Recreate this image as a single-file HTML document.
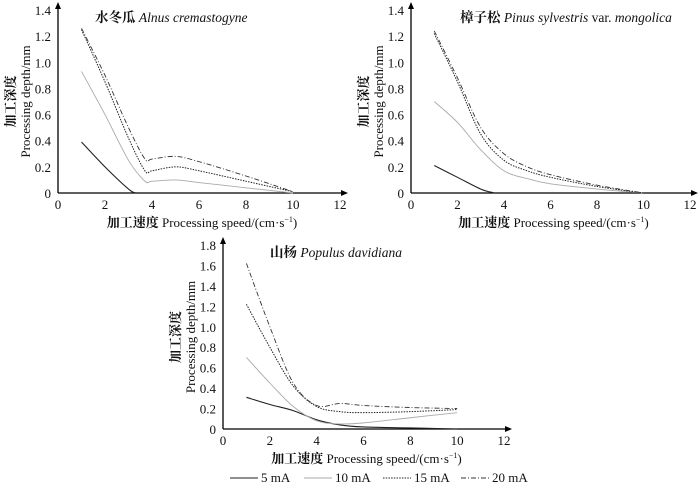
<!DOCTYPE html>
<html><head><meta charset="utf-8"><style>
body{margin:0;background:#fff}
svg text, svg tspan{font-family:"Liberation Serif","Noto Serif CJK SC",serif;fill:#111}
</style></head><body>
<svg id="s" width="700" height="486" viewBox="0 0 700 486"></svg>
<script>
const series = ["5 mA","10 mA","15 mA","20 mA"];
const alnusX5=[1,2,3,3.3], alnusY5=[0.39,0.2,0.03,0];
const alnusX=[1,2,3,3.7,4,5,6,8,10];
const alnusY10=[0.93,0.6,0.25,0.09,0.09,0.1,0.08,0.04,0];
const alnusY15=[1.25,0.85,0.42,0.17,0.17,0.2,0.17,0.09,0.01];
const alnusY20=[1.26,0.9,0.5,0.26,0.26,0.28,0.24,0.13,0.01];
const pinusX5=[1,2,3,3.6], pinusY5=[0.21,0.12,0.03,0];
const pinusX=[1,2,3,4,5,6,8,10];
const pinusY10=[0.7,0.54,0.33,0.17,0.11,0.07,0.03,0];
const pinusY15=[1.22,0.85,0.45,0.25,0.17,0.12,0.05,0];
const pinusY20=[1.24,0.88,0.5,0.3,0.2,0.14,0.06,0];
const popX=[1,2,3,4,5,6,8,10];
const popY5=[0.31,0.24,0.18,0.09,0.04,0.02,0.01,0];
const popY10=[0.7,0.45,0.22,0.08,0.05,0.06,0.11,0.16];
const popY15=[1.22,0.8,0.42,0.22,0.17,0.16,0.17,0.19];
const popY20=[1.62,1.0,0.45,0.23,0.25,0.23,0.21,0.2];
const xTicks=[0,2,4,6,8,10,12];
const yTicks14=[0,0.2,0.4,0.6,0.8,1.0,1.2,1.4];
const yTicks18=[0,0.2,0.4,0.6,0.8,1.0,1.2,1.4,1.6,1.8];

const NS="http://www.w3.org/2000/svg", S=document.getElementById('s');
const FF='"Liberation Serif","Noto Serif CJK SC",serif';
function el(t,a,p){const e=document.createElementNS(NS,t);for(const k in a)e.setAttribute(k,a[k]);(p||S).appendChild(e);return e;}
const styles=[{stroke:'#222','stroke-width':1.1},{stroke:'#aaa','stroke-width':0.9},{stroke:'#222','stroke-width':1,'stroke-dasharray':'1.5,1.2'},{stroke:'#333','stroke-width':0.9,'stroke-dasharray':'5,2,1,2'}];
function smooth(pts){let d='M'+pts[0][0]+','+pts[0][1];for(let i=0;i<pts.length-1;i++){const p0=pts[i-1]||pts[i],p1=pts[i],p2=pts[i+1],p3=pts[i+2]||p2;
d+=' C'+(p1[0]+(p2[0]-p0[0])/6)+','+(p1[1]+(p2[1]-p0[1])/6)+' '+(p2[0]-(p3[0]-p1[0])/6)+','+(p2[1]-(p3[1]-p1[1])/6)+' '+p2[0]+','+p2[1];}return d;}
function chart(name,o){
 const g=el('g',{});  
 const xs=v=>o.x0+(o.x1-o.x0)*v/12, ymax=o.yt[o.yt.length-1], ys=v=>o.y0-(o.y0-o.y1)*v/ymax;
 el('line',{x1:o.x0,y1:o.y0,x2:o.x1+3,y2:o.y0,stroke:'#000','stroke-width':1.3},g);
 el('line',{x1:o.x0,y1:o.y0,x2:o.x0,y2:o.y1-3,stroke:'#000','stroke-width':1.3},g);
 el('path',{d:`M${o.x1+8},${o.y0} l-7,-3 v6z`,fill:'#000'},g);
 el('path',{d:`M${o.x0},${o.y1-8} l-3,7 h6z`,fill:'#000'},g);
 xTicks.forEach(t=>{const e=el('text',{x:xs(t),y:o.y0+16,'text-anchor':'middle','font-size':13,'font-family':FF},g);e.textContent=t;});
 o.yt.forEach(t=>{const e=el('text',{x:o.x0-7,y:ys(t)+5,'text-anchor':'end','font-size':13,'font-family':FF},g);e.textContent=t===0?'0':t.toFixed(1);});
 const xl=el('text',{x:(o.x0+o.x1)/2+3,y:o.y0+34,'text-anchor':'middle','font-size':13,'font-family':FF},g);
 xl.innerHTML='<tspan font-weight="bold">加工速度</tspan> Processing speed/(cm·s<tspan dy="-5" font-size="8">−1</tspan><tspan dy="5">)</tspan>';
 
 const cy=(o.y0+o.y1)/2;
 const yl=el('text',{transform:`translate(${o.x0-43},${cy}) rotate(-90)`,'text-anchor':'middle','font-size':13,'font-weight':'bold','font-family':FF},g);
 yl.textContent='加工深度';
 
 const yl2=el('text',{transform:`translate(${o.x0-28},${cy}) rotate(-90)`,'text-anchor':'middle','font-size':13,'font-family':FF},g);
 yl2.textContent='Processing depth/mm';
 
 const tt=el('text',{x:o.tx,y:o.y1+12,'font-size':13.5,'font-family':FF},g);tt.innerHTML=o.title;
 
 o.data.forEach((d,i)=>{const pts=d[0].map((x,j)=>[xs(x),ys(d[1][j])]);
  const p=el('path',Object.assign({d:smooth(pts),fill:'none'},styles[i]),g);
  });
}
chart('chart-alnus',{x0:58,x1:340,y0:193,y1:10,yt:yTicks14,tx:95,title:'<tspan font-weight="bold">水冬瓜</tspan> <tspan font-style="italic">Alnus cremastogyne</tspan>',
 data:[[alnusX5,alnusY5],[alnusX,alnusY10],[alnusX,alnusY15],[alnusX,alnusY20]]});
chart('chart-pinus',{x0:411,x1:690,y0:193,y1:10,yt:yTicks14,tx:460,title:'<tspan font-weight="bold">樟子松</tspan> <tspan font-style="italic">Pinus sylvestris</tspan> var. <tspan font-style="italic">mongolica</tspan>',
 data:[[pinusX5,pinusY5],[pinusX,pinusY10],[pinusX,pinusY15],[pinusX,pinusY20]]});
chart('chart-populus',{x0:223,x1:504,y0:429,y1:245,yt:yTicks18,tx:270,title:'<tspan font-weight="bold">山杨</tspan> <tspan font-style="italic">Populus davidiana</tspan>',
 data:[[popX,popY5],[popX,popY10],[popX,popY15],[popX,popY20]]});
const lg=el('g',{});
const lx=[230,304,383,461];
series.forEach((s,i)=>{const e=el('g',{},lg);
 el('line',Object.assign({x1:lx[i],y1:478,x2:lx[i]+28,y2:478},styles[i]),e);
 const t=el('text',{x:lx[i]+31,y:482,'font-size':13,'font-family':FF},e);t.textContent=s;});
</script>
</body></html>
